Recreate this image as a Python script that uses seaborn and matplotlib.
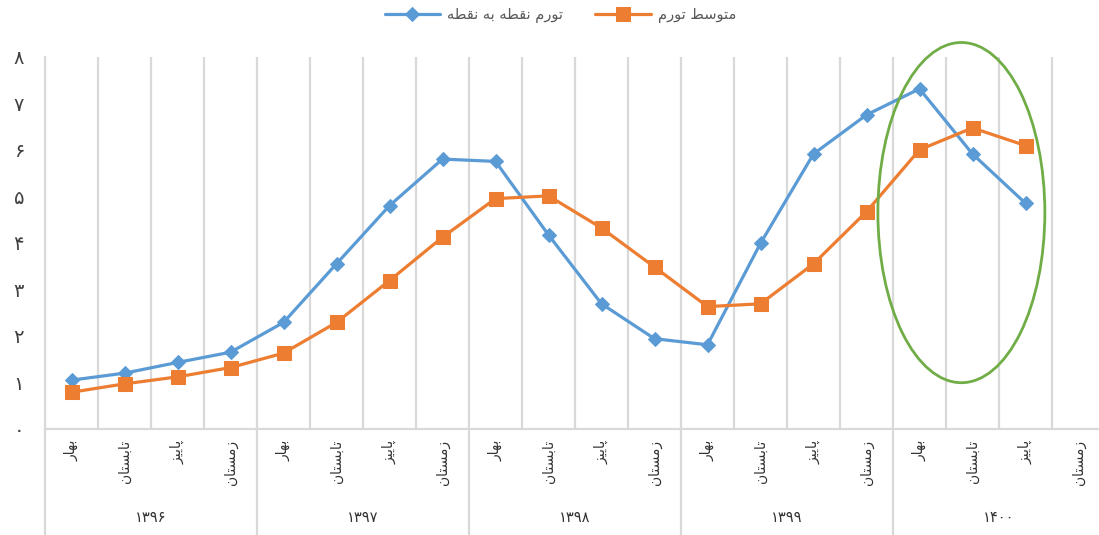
import numpy as np
import pandas as pd
import matplotlib
matplotlib.use("Agg")
import matplotlib.pyplot as plt
import matplotlib.transforms as mtransforms
from matplotlib.patches import Ellipse
import seaborn as sns

# ---------------- data ----------------
years = ["1396", "1397", "1398", "1399", "1400"]
seasons = ["بهار", "تابستان", "پاییز", "زمستان"]
point_inflation = [1.05, 1.20, 1.43, 1.65, 2.29, 3.55, 4.80, 5.80, 5.75, 4.17,
                   2.69, 1.94, 1.81, 3.99, 5.91, 6.75, 7.31, 5.91, 4.85, np.nan]
avg_inflation = [0.79, 0.97, 1.12, 1.32, 1.63, 2.29, 3.19, 4.12, 4.95, 5.01,
                 4.32, 3.48, 2.63, 2.69, 3.55, 4.67, 6.00, 6.47, 6.09, np.nan]
label_point = "تورم نقطه به نقطه"
label_avg = "متوسط تورم"
y_ticks = [0, 1, 2, 3, 4, 5, 6, 7, 8]

# ------------- minimal Persian shaping (matplotlib has no RTL shaping) -------------
FORMS = {
    "ا": ("\uFE8D", "\uFE8E", None, None),
    "ب": ("\uFE8F", "\uFE90", "\uFE91", "\uFE92"),
    "پ": ("\uFB56", "\uFB57", "\uFB58", "\uFB59"),
    "ت": ("\uFE95", "\uFE96", "\uFE97", "\uFE98"),
    "ر": ("\uFEAD", "\uFEAE", None, None),
    "ز": ("\uFEAF", "\uFEB0", None, None),
    "س": ("\uFEB1", "\uFEB2", "\uFEB3", "\uFEB4"),
    "ط": ("\uFEC1", "\uFEC2", "\uFEC3", "\uFEC4"),
    "ق": ("\uFED5", "\uFED6", "\uFED7", "\uFED8"),
    "م": ("\uFEE1", "\uFEE2", "\uFEE3", "\uFEE4"),
    "ن": ("\uFEE5", "\uFEE6", "\uFEE7", "\uFEE8"),
    "ه": ("\uFEE9", "\uFEEA", "\uFEEB", "\uFEEC"),
    "و": ("\uFEED", "\uFEEE", None, None),
    "ی": ("\uFBFC", "\uFBFD", "\uFBFE", "\uFBFF"),
}


def dual(c):
    return c in FORMS and FORMS[c][2] is not None


def shape_word(w):
    out = []
    for i, c in enumerate(w):
        if c not in FORMS:
            out.append(c)
            continue
        jp = i > 0 and dual(w[i - 1])
        jn = dual(c) and i < len(w) - 1 and w[i + 1] in FORMS
        iso, fin, ini, med = FORMS[c]
        if jp and jn:
            out.append(med)
        elif jp:
            out.append(fin)
        elif jn:
            out.append(ini)
        else:
            out.append(iso)
    return "".join(reversed(out))


def fa(text):
    return " ".join(shape_word(w) for w in reversed(text.split(" ")))


def fa_digits(s):
    return "".join(chr(0x06F0 + int(c)) if c.isdigit() else c for c in str(s))


# ---------------- figure ----------------
sns.set_theme(style="white")
plt.rcParams["font.family"] = ["DejaVu Sans"]

W, H = 1099, 535
fig = plt.figure(figsize=(W / 100, H / 100), dpi=100)
left_px, right_px, top_px, bottom_px = 45, 1105, 56.7, 429
ax = fig.add_axes([left_px / W, (H - bottom_px) / H,
                   (right_px - left_px) / W, (bottom_px - top_px) / H])

n = len(years) * len(seasons)
df = pd.DataFrame({"x": np.arange(n),
                   "point": point_inflation,
                   "avg": avg_inflation})

blue = "#5B9BD5"
orange = "#ED7D31"
sns.lineplot(data=df, x="x", y="point", ax=ax, color=blue, linewidth=2.3,
             marker="D", markersize=7.5, markeredgecolor=blue, markerfacecolor=blue,
             label=fa(label_point))
sns.lineplot(data=df, x="x", y="avg", ax=ax, color=orange, linewidth=2.3,
             marker="s", markersize=9.5, markeredgecolor=orange, markerfacecolor=orange,
             label=fa(label_avg))

ax.set_xlim(-0.5, n - 0.5)
ax.set_ylim(0, 8)
ax.set_xlabel("")
ax.set_ylabel("")

grid_c = "#D9D9D9"
ax.set_xticks(np.arange(n))
ax.set_xticklabels([fa(s) for _ in years for s in seasons], rotation=90,
                   fontsize=10, color="#333333")
ax.set_xticks(np.arange(-0.5, n, 1.0), minor=True)
ax.tick_params(axis="x", which="both", length=0, pad=8)
ax.grid(False)
ax.grid(True, axis="x", which="minor", color=grid_c, linewidth=1.6)

ax.set_yticks(y_ticks)
ax.set_yticklabels([fa_digits(v) for v in y_ticks], fontsize=14, color="#404040")
ax.tick_params(axis="y", length=0, pad=15)

for s in ["top", "right"]:
    ax.spines[s].set_visible(False)
for s in ["left", "bottom"]:
    ax.spines[s].set_color(grid_c)
    ax.spines[s].set_linewidth(1.6)

# group separators below the axis and year labels
trans = mtransforms.blended_transform_factory(ax.transData, ax.transAxes)
for k in range(len(years) + 1):
    xb = -0.5 + 4 * k
    ax.plot([xb, xb], [0, -0.3], transform=trans, color=grid_c, linewidth=1.6,
            clip_on=False)
for k, yr in enumerate(years):
    ax.text(4 * k + 1.5, -0.239, fa_digits(yr), transform=trans, ha="center",
            va="center", fontsize=10.5, color="#333333")

# highlight ellipse
ell = Ellipse((16.79, 4.65), width=3.15, height=7.31, fill=False,
              edgecolor="#70AD47", linewidth=2, clip_on=False, zorder=5)
ax.add_patch(ell)

# legend
handles, labels = ax.get_legend_handles_labels()
ax.get_legend().remove()
fig.legend(handles, labels, loc="center", bbox_to_anchor=(0.51, 0.972), ncol=2,
           frameon=False, fontsize=10.5, handlelength=3.8, columnspacing=2.2,
           labelcolor="#595959", handletextpad=0.5)

fig.savefig("out.png", dpi=100)
